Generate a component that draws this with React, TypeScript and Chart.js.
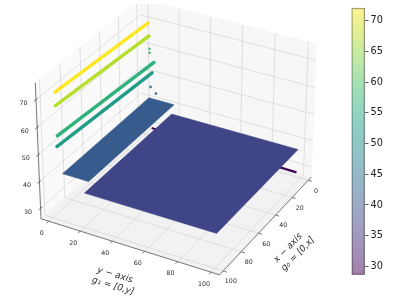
import React, { useEffect, useRef } from "react";
import { Chart, registerables } from "chart.js";
Chart.register(...registerables);

const xTicks = [0, 20, 40, 60, 80, 100];
const yTicks = [0, 20, 40, 60, 80, 100];
const zTicks = [30, 40, 50, 60, 70];
const xLim = [-4, 104];
const yLim = [-5, 105];
const zLim = [26, 76];
const cbarRange = [28.6, 72.1];

// structures: [x0, x1], [y0, y1], z
const purpleX = [0, 3];
const purpleY = [4, 99];
const purpleZ = 29;
const bigPlateX = [2, 96.5];
const bigPlateY = [18.5, 99];
const bigPlateZ = 37.5;
const bandX = [1, 93.5];
const bandY = [3, 19.5];
const bandZ = 41;
const rowZ = [52.5, 56.5, 67.3, 72.1];
const rowXFar = [5, 4.5, 8, 8];
const rowXNear = [98, 98, 98, 98];
const rowYFar = [7.5, 8.5, 7.5, 7];
const rowYNear = [3, 3.5, 3, 3];
const dotZ = [43, 45, 58, 59.5];
const dotX = [0, 0, 0, 0];
const dotY = [7, 3.5, 3, 3];

const viridis = ["#440154", "#482475", "#414487", "#355f8d", "#2a788e", "#21918c", "#22a884", "#44bf70", "#7ad151", "#bddf26", "#fde725"];
const colorOf = (z: number) => {
  const t = Math.max(0, Math.min(0.9999, (z - cbarRange[0]) / (cbarRange[1] - cbarRange[0]))) * 10;
  const i = Math.floor(t), f = t - i;
  const p = (h: string) => [1, 3, 5].map((k) => parseInt(h.slice(k, k + 2), 16));
  const a = p(viridis[i]), b = p(viridis[i + 1]);
  return `rgb(${a.map((v, k) => Math.round(v + (b[k] - v) * f)).join(",")})`;
};

// perspective camera
const AZ = (29 * Math.PI) / 180, EL = (31 * Math.PI) / 180, DIST = 10, SCALE = 207, OX = 178, OY = 131, ZASP = 0.78;
function project(x: number, y: number, z: number) {
  const u = (x - xLim[0]) / (xLim[1] - xLim[0]) - 0.5;
  const v = (y - yLim[0]) / (yLim[1] - yLim[0]) - 0.5;
  const w = ((z - zLim[0]) / (zLim[1] - zLim[0]) - 0.5) * ZASP;
  const n = [Math.cos(EL) * Math.cos(AZ), Math.cos(EL) * Math.sin(AZ), Math.sin(EL)];
  const r = [-Math.sin(AZ), Math.cos(AZ), 0];
  const t = [n[1] * r[2] - n[2] * r[1], n[2] * r[0] - n[0] * r[2], n[0] * r[1] - n[1] * r[0]];
  const q = [u, v, w];
  const dot = (a: number[]) => a[0] * q[0] + a[1] * q[1] + a[2] * q[2];
  const k = DIST / (DIST - dot(n));
  return { x: OX + SCALE * k * dot(r), y: OY - SCALE * k * dot(t) };
}

const P = (x: number, y: number, z: number) => project(x, y, z);
const rect = (a: number[], b: number[], z: number) => [P(a[0], b[0], z), P(a[1], b[0], z), P(a[1], b[1], z), P(a[0], b[1], z), P(a[0], b[0], z)];

function buildDatasets() {
  const ds: any[] = [];
  const poly = (data: any[], color: string) => ds.push({ data, showLine: true, fill: "shape", backgroundColor: color, borderColor: color, borderWidth: 0.5, pointRadius: 0, tension: 0 });
  const line = (data: any[], color: string, w: number, cap = "butt") => ds.push({ data, showLine: true, fill: false, borderColor: color, borderWidth: w, borderCapStyle: cap, pointRadius: 0, tension: 0 });

  // panes
  poly([P(xLim[0], yLim[0], zLim[0]), P(xLim[1], yLim[0], zLim[0]), P(xLim[1], yLim[0], zLim[1]), P(xLim[0], yLim[0], zLim[1]), P(xLim[0], yLim[0], zLim[0])], "#fafafa");
  poly([P(xLim[0], yLim[0], zLim[0]), P(xLim[0], yLim[1], zLim[0]), P(xLim[0], yLim[1], zLim[1]), P(xLim[0], yLim[0], zLim[1]), P(xLim[0], yLim[0], zLim[0])], "#f7f7f7");
  poly(rect(xLim, yLim, zLim[0]), "#f2f2f2");

  // grid
  const grid = "#d4d4d4";
  xTicks.forEach((t) => {
    line([P(t, yLim[1], zLim[0]), P(t, yLim[0], zLim[0]), P(t, yLim[0], zLim[1])], grid, 0.7);
    line([P(t, yLim[1], zLim[0]), P(t, yLim[1] + 2.2, zLim[0])], "#444", 0.7);
  });
  yTicks.forEach((t) => {
    line([P(xLim[1], t, zLim[0]), P(xLim[0], t, zLim[0]), P(xLim[0], t, zLim[1])], grid, 0.7);
    line([P(xLim[1], t, zLim[0]), P(xLim[1] + 2.2, t, zLim[0])], "#444", 0.7);
  });
  zTicks.forEach((t) => {
    line([P(xLim[1], yLim[0], t), P(xLim[0], yLim[0], t), P(xLim[0], yLim[1], t)], grid, 0.7);
    line([P(xLim[1] - 1.5, yLim[0], t), P(xLim[1] + 2, yLim[0], t)], "#444", 0.7);
  });

  // axis lines
  line([P(xLim[1], yLim[0], zLim[1]), P(xLim[1], yLim[0], zLim[0]), P(xLim[1], yLim[1], zLim[0]), P(xLim[0], yLim[1], zLim[0])], "#555", 0.8);

  // data
  line([P(purpleX[0], purpleY[0], purpleZ), P(purpleX[1], purpleY[1], purpleZ)], colorOf(purpleZ), 2.2);
  poly(rect(bigPlateX, bigPlateY, bigPlateZ), colorOf(bigPlateZ));
  poly(rect(bandX, bandY, bandZ), colorOf(bandZ));
  rowZ.forEach((z, i) => line([P(rowXFar[i], rowYFar[i], z), P(rowXNear[i], rowYNear[i], z)], colorOf(z), 3.4, "round"));
  dotZ.forEach((z, i) => ds.push({ data: [P(dotX[i], dotY[i], z)], pointRadius: 1.3, borderWidth: 0, backgroundColor: colorOf(z) }));
  return ds.reverse();
}

const labelsPlugin = {
  id: "labels3d",
  afterDatasetsDraw(chart: any) {
    const { ctx, scales } = chart;
    const at = (p: { x: number; y: number }) => ({ x: scales.x.getPixelForValue(p.x), y: scales.y.getPixelForValue(p.y) });
    ctx.save();
    ctx.fillStyle = "#2a2a2a";
    ctx.textAlign = "center";
    ctx.textBaseline = "middle";
    ctx.font = '6.3px "DejaVu Sans"';
    xTicks.forEach((t) => { const p = at(P(t, yLim[1], zLim[0])); ctx.fillText(String(t), p.x + 7.7, p.y + 10.7); });
    yTicks.forEach((t) => { const p = at(P(xLim[1], t, zLim[0])); ctx.fillText(String(t), p.x - 7, p.y + 12); });
    zTicks.forEach((t) => { const p = at(P(xLim[1], yLim[0], t)); ctx.fillText(String(t), p.x - 12.5, p.y + 4); });
    const title = (text: string, x: number, y: number, deg: number) => {
      ctx.save();
      ctx.translate(x, y);
      ctx.rotate((deg * Math.PI) / 180);
      ctx.font = 'italic 9px "DejaVu Sans"';
      ctx.fillText(text, 0, 0);
      ctx.restore();
    };
    title("y − axis", 115, 275, 17);
    title("g₁ = [0,y]", 113, 286, 17);
    title("x − axis", 288, 248, -46);
    title("g₀ = [0,x]", 298, 254, -46);
    ctx.restore();
  },
};

export default function App() {
  const mainRef = useRef<HTMLCanvasElement>(null);
  const barRef = useRef<HTMLCanvasElement>(null);
  useEffect(() => {
    const main = new Chart(mainRef.current!, {
      type: "scatter",
      data: { datasets: buildDatasets() },
      options: {
        animation: false,
        responsive: false,
        layout: { padding: 0 },
        plugins: { legend: { display: false }, tooltip: { enabled: false } },
        scales: {
          x: { type: "linear", display: false, min: 0, max: 397 },
          y: { type: "linear", display: false, min: 0, max: 299, reverse: true },
        },
      },
      plugins: [labelsPlugin],
    } as any);
    const bar = new Chart(barRef.current!, {
      type: "bar",
      data: {
        labels: [""],
        datasets: [{
          data: [cbarRange as any],
          barPercentage: 1,
          categoryPercentage: 1,
          borderWidth: 1,
          borderSkipped: false,
          borderColor: "#8a8a8a",
          backgroundColor: (c: any) => {
            const a = c.chart.chartArea;
            if (!a) return "#888";
            const g = c.chart.ctx.createLinearGradient(0, a.bottom, 0, a.top);
            viridis.forEach((h, i) => g.addColorStop(i / 10, h + "80"));
            return g;
          },
        }],
      },
      options: {
        animation: false,
        responsive: false,
        layout: { padding: { left: 11.5, top: 3, bottom: 24, right: 0 } },
        plugins: { legend: { display: false }, tooltip: { enabled: false } },
        scales: {
          x: { display: false },
          y: {
            position: "right",
            min: cbarRange[0],
            max: cbarRange[1],
            afterFit: (s: any) => { s.width = 32; },
            afterBuildTicks: (s: any) => { s.ticks = [30, 35, 40, 45, 50, 55, 60, 65, 70].map((value) => ({ value })); },
            grid: { display: true, drawOnChartArea: false, drawTicks: true, tickLength: 3.5, color: "#333", lineWidth: 0.8 },
            border: { display: false },
            ticks: { color: "#222", padding: 2, font: { family: "DejaVu Sans", size: 9.7 } },
          },
        },
      },
    } as any);
    return () => { main.destroy(); bar.destroy(); };
  }, []);
  return (
    <div style={{ position: "fixed", left: 0, top: 0, width: 397, height: 299, background: "#fff" }}>
      <canvas ref={mainRef} width={397} height={299} style={{ position: "absolute", left: 0, top: 0, width: 397, height: 299 }} />
      <canvas ref={barRef} width={57} height={299} style={{ position: "absolute", left: 340, top: 0, width: 57, height: 299 }} />
    </div>
  );
}
